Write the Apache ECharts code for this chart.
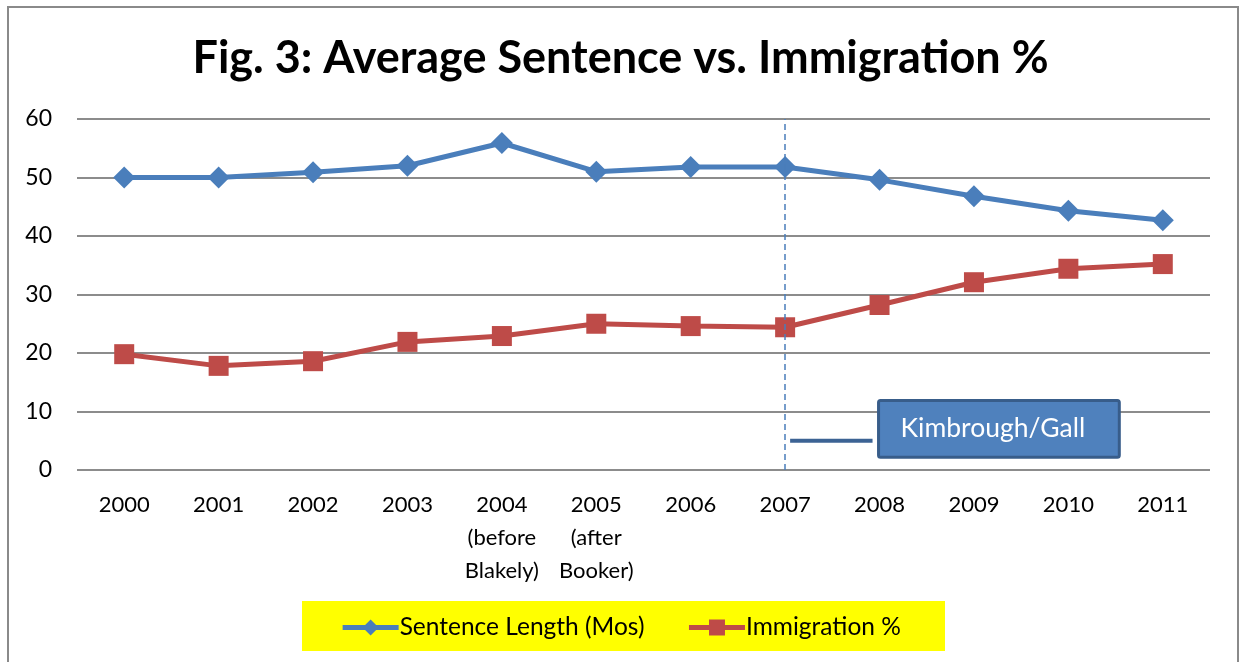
<!DOCTYPE html>
<html>
<head>
<meta charset="utf-8">
<script src="https://cdn.jsdelivr.net/npm/echarts@6/dist/echarts.min.js"></script>
<style>
html,body{margin:0;padding:0;background:#fff;}
#main{width:1241px;height:662px;}
</style>
</head>
<body>
<div id="main"></div>
<script>
var categories = ['2000','2001','2002','2003','2004\n(before\nBlakely)','2005\n(after\nBooker)','2006','2007','2008','2009','2010','2011'];
var sentenceLength = [50, 50, 50.9, 52, 55.9, 51, 51.8, 51.8, 49.6, 46.8, 44.3, 42.7];
var immigration = [19.8, 17.8, 18.6, 21.9, 22.9, 25, 24.6, 24.4, 28.2, 32.1, 34.4, 35.2];
var seriesNames = ['Sentence Length (Mos)', 'Immigration %'];
var titleText = 'Fig. 3: Average Sentence vs. Immigration %';
var annotationText = 'Kimbrough/Gall';
var markerCategory = '2007';

var FONT = 'Lato, "Open Sans", sans-serif';
var chart = echarts.init(document.getElementById('main'));

var option = {
  animation: false,
  backgroundColor: '#fff',
  title: {
    text: titleText,
    left: 'center',
    top: 31,
    textStyle: {fontFamily: FONT, fontSize: 45, fontWeight: 'bold', color: '#000'}
  },
  grid: {left: 77, right: 31, top: 119, bottom: 192},
  legend: {
    bottom: 9,
    left: 'center',
    padding: [13, 20, 13, 20],
    itemGap: 42,
    itemWidth: 56,
    itemHeight: 20,
    lineStyle: {width: 5},
    textStyle: {fontFamily: FONT, fontSize: 24.5, color: '#000', padding: [0,0,0,-4]},
    data: seriesNames
  },
  xAxis: {
    type: 'category',
    data: categories,
    boundaryGap: true,
    axisLine: {show: false},
    axisTick: {show: false},
    axisLabel: {fontFamily: FONT, fontSize: 22, color: '#000', lineHeight: 33, margin: 18, interval: 0}
  },
  yAxis: {
    type: 'value',
    min: 0, max: 60, interval: 10,
    axisLine: {show: false},
    axisTick: {show: false},
    axisLabel: {fontFamily: FONT, fontSize: 23, color: '#000', margin: 25},
    splitLine: {lineStyle: {color: '#8c8c8c', width: 2}}
  },
  series: [
    {
      name: seriesNames[0],
      type: 'line',
      data: sentenceLength,
      symbol: 'diamond',
      symbolSize: 22,
      itemStyle: {color: '#4a7ebb'},
      lineStyle: {color: '#4a7ebb', width: 5},
      markLine: {
        silent: true,
        symbol: ['none','none'],
        label: {show: false},
        lineStyle: {color: '#4a7ebb', type: [6,4], width: 1.5},
        data: [{xAxis: markerCategory}]
      },
      z: 3
    },
    {
      name: seriesNames[1],
      type: 'line',
      data: immigration,
      symbol: 'rect',
      symbolSize: 20,
      itemStyle: {color: '#be4b48'},
      lineStyle: {color: '#be4b48', width: 5},
      z: 2
    }
  ]
};
chart.setOption(option);

var idx = categories.indexOf(markerCategory);
var p0 = chart.convertToPixel({xAxisIndex:0, yAxisIndex:0}, [idx, 5]);
var p1 = chart.convertToPixel({xAxisIndex:0, yAxisIndex:0}, [idx + 1, 11.9]);
var pB = chart.convertToPixel({xAxisIndex:0, yAxisIndex:0}, [idx + 1, 2.2]);
var step = p1[0] - p0[0];
var boxX = p1[0] - 1, boxY = p1[1], boxW = step * 2.55, boxH = pB[1] - boxY;

chart.setOption({
  graphic: [
    {type: 'rect', shape: {x: 8, y: 7, width: 1230, height: 700}, style: {fill: 'none', stroke: '#8a8a8a', lineWidth: 2}, z: -1, silent: true},
    {type: 'rect', shape: {x: 302, y: 601, width: 643, height: 50}, style: {fill: '#ffff00'}, z: -1, silent: true},
    {type: 'line', shape: {x1: p0[0] + 5, y1: p0[1], x2: boxX - 6, y2: p0[1]}, style: {stroke: '#3c6394', lineWidth: 4}, z: 10},
    {type: 'rect', shape: {x: boxX, y: boxY, width: boxW, height: boxH, r: 2}, style: {fill: '#4f81bd', stroke: '#385d8a', lineWidth: 3}, z: 10},
    {type: 'text', x: boxX + 22, y: boxY + boxH / 2, style: {text: annotationText, fill: '#fff', font: '26.5px ' + FONT, verticalAlign: 'middle'}, z: 11}
  ]
});
</script>
</body>
</html>
